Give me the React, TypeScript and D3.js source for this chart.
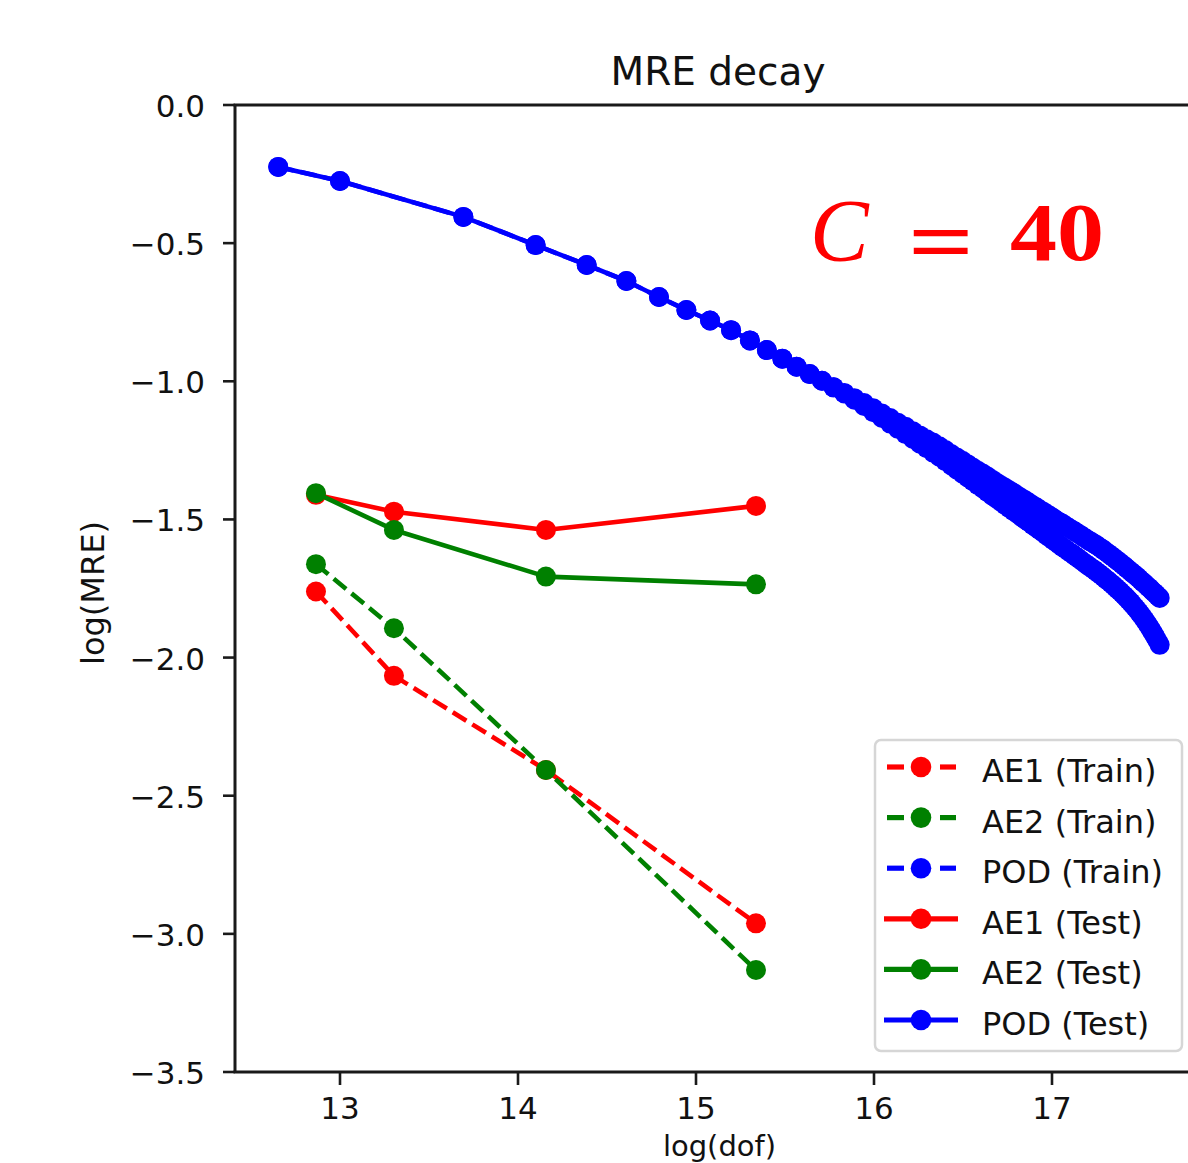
import React from "react";
import * as d3 from "d3";

// ---------- data ----------
const AE_X = [12.865, 13.303, 14.157, 15.337];
const AE1_TRAIN = [-1.761, -2.066, -2.407, -2.962];
const AE2_TRAIN = [-1.662, -1.894, -2.407, -3.131];
const AE1_TEST = [-1.411, -1.472, -1.538, -1.451];
const AE2_TEST = [-1.405, -1.538, -1.707, -1.735];

const POD_X = [
  12.653, 13.0, 13.693, 14.099, 14.386, 14.609, 14.792, 14.946, 15.079, 15.197, 15.303,
  15.398, 15.485, 15.565, 15.639, 15.708, 15.773, 15.833, 15.89, 15.944, 15.996,
  16.045, 16.091, 16.135, 16.178, 16.219, 16.258, 16.296, 16.332, 16.367, 16.401,
  16.434, 16.466, 16.497, 16.526, 16.555, 16.584, 16.611, 16.638, 16.664, 16.689,
  16.714, 16.738, 16.761, 16.784, 16.807, 16.829, 16.85, 16.871, 16.892, 16.912,
  16.932, 16.951, 16.97, 16.989, 17.007, 17.025, 17.043, 17.06, 17.078, 17.094,
  17.111, 17.127, 17.143, 17.159, 17.174, 17.19, 17.205, 17.22, 17.234, 17.248,
  17.263, 17.277, 17.29, 17.304, 17.317, 17.331, 17.344, 17.357, 17.369, 17.382,
  17.394, 17.407, 17.419, 17.431, 17.443, 17.454, 17.466, 17.477, 17.489, 17.5,
  17.511, 17.522, 17.533, 17.543, 17.554, 17.564, 17.575, 17.585, 17.595, 17.605,
];
const POD_TRAIN = [
  -0.224, -0.275, -0.405, -0.507, -0.579, -0.637, -0.695, -0.742, -0.78, -0.815, -0.852,
  -0.887, -0.918, -0.947, -0.974, -0.998, -1.022, -1.044, -1.067, -1.089, -1.112,
  -1.133, -1.153, -1.172, -1.191, -1.209, -1.226, -1.242, -1.258, -1.273, -1.289,
  -1.305, -1.32, -1.334, -1.348, -1.362, -1.376, -1.388, -1.401, -1.414, -1.425,
  -1.437, -1.448, -1.459, -1.47, -1.48, -1.491, -1.501, -1.51, -1.521, -1.53,
  -1.539, -1.548, -1.558, -1.566, -1.575, -1.583, -1.592, -1.6, -1.608, -1.616,
  -1.623, -1.631, -1.638, -1.646, -1.653, -1.661, -1.668, -1.675, -1.681, -1.688,
  -1.695, -1.702, -1.709, -1.717, -1.723, -1.731, -1.738, -1.746, -1.753, -1.76,
  -1.768, -1.776, -1.784, -1.792, -1.8, -1.809, -1.818, -1.826, -1.836, -1.845,
  -1.855, -1.865, -1.875, -1.885, -1.896, -1.907, -1.919, -1.93, -1.942, -1.954,
];
const POD_TEST = [
  -0.224, -0.275, -0.405, -0.507, -0.579, -0.637, -0.695, -0.742, -0.78, -0.815, -0.852,
  -0.887, -0.918, -0.947, -0.974, -0.998, -1.022, -1.042, -1.061, -1.079, -1.098,
  -1.117, -1.133, -1.15, -1.165, -1.181, -1.196, -1.21, -1.222, -1.235, -1.249,
  -1.263, -1.276, -1.288, -1.3, -1.312, -1.324, -1.334, -1.345, -1.356, -1.367,
  -1.377, -1.386, -1.395, -1.404, -1.414, -1.423, -1.431, -1.44, -1.449, -1.456,
  -1.465, -1.472, -1.48, -1.488, -1.495, -1.503, -1.51, -1.516, -1.524, -1.53,
  -1.537, -1.543, -1.55, -1.556, -1.563, -1.569, -1.576, -1.581, -1.587, -1.592,
  -1.599, -1.605, -1.611, -1.618, -1.624, -1.631, -1.637, -1.644, -1.65, -1.656,
  -1.663, -1.669, -1.676, -1.682, -1.689, -1.695, -1.701, -1.707, -1.714, -1.721,
  -1.727, -1.733, -1.74, -1.746, -1.752, -1.759, -1.765, -1.771, -1.778, -1.784,
];

const X_TICKS = [13, 14, 15, 16, 17];
const Y_TICKS = [0, -0.5, -1.0, -1.5, -2.0, -2.5, -3.0, -3.5];

const LEGEND_LABELS = ["AE1 (Train)", "AE2 (Train)", "POD (Train)", "AE1 (Test)", "AE2 (Test)", "POD (Test)"];

type Series = { label: string; xs: number[]; ys: number[]; color: string; dashed: boolean };

const SERIES: Series[] = [
  { label: LEGEND_LABELS[0], xs: AE_X, ys: AE1_TRAIN, color: "#ff0000", dashed: true },
  { label: LEGEND_LABELS[1], xs: AE_X, ys: AE2_TRAIN, color: "#008000", dashed: true },
  { label: LEGEND_LABELS[2], xs: POD_X, ys: POD_TRAIN, color: "#0000ff", dashed: true },
  { label: LEGEND_LABELS[3], xs: AE_X, ys: AE1_TEST, color: "#ff0000", dashed: false },
  { label: LEGEND_LABELS[4], xs: AE_X, ys: AE2_TEST, color: "#008000", dashed: false },
  { label: LEGEND_LABELS[5], xs: POD_X, ys: POD_TEST, color: "#0000ff", dashed: false },
];

// ---------- layout ----------
const W = 1188;
const H = 1163;
const L = 235;
const R = 1204;
const T = 105;
const B = 1072;
const FONT = "'DejaVu Sans', sans-serif";
const LW = 4.6;
const MR = 10;
const DASH = "16 7";

export default function App() {
  const x = d3.scaleLinear().domain([13 - (340 - L) / 178, 13 + (R - 340) / 178]).range([L, R]);
  const y = d3.scaleLinear().domain([-3.5, 0]).range([B, T]);
  const fmt = d3.format(".1f");

  const line = (xs: number[], ys: number[]) =>
    d3.line<number>().x((_, i) => x(xs[i])).y((d) => y(d))(ys) || "";

  const legX = 875;
  const legY = 740;
  const rowY = (i: number) => 767 + i * 50.6;
  const serif = "'Liberation Serif', 'DejaVu Serif', serif";

  return (
    <div style={{ position: "absolute", left: 0, top: 0, width: W, height: H, overflow: "hidden", background: "#fff" }}>
      <svg width={W} height={H} style={{ display: "block" }} fontFamily={FONT}>
        <rect x={0} y={0} width={W} height={H} fill="#fff" />

        {/* series */}
        {SERIES.map((s, si) => (
          <g key={si}>
            <path
              d={line(s.xs, s.ys)}
              fill="none"
              stroke={s.color}
              strokeWidth={LW}
              strokeDasharray={s.dashed ? DASH : undefined}
              strokeLinejoin="round"
            />
            {s.ys.map((v, i) => (
              <circle key={i} cx={x(s.xs[i])} cy={y(v)} r={MR} fill={s.color} />
            ))}
          </g>
        ))}

        {/* spines */}
        <g stroke="#1a1a1a" strokeWidth={3} fill="none">
          <line x1={L} y1={T} x2={L} y2={B} />
          <line x1={L - 1.5} y1={T} x2={R} y2={T} />
          <line x1={L - 1.5} y1={B} x2={R} y2={B} />
          <line x1={R} y1={T} x2={R} y2={B} />
        </g>

        {/* y ticks */}
        {Y_TICKS.map((t) => (
          <g key={t}>
            <line x1={L - 12} x2={L} y1={y(t)} y2={y(t)} stroke="#1a1a1a" strokeWidth={2.6} />
            <text x={205} y={y(t) + 12} textAnchor="end" fontSize={31} fill="#111">
              {fmt(t)}
            </text>
          </g>
        ))}

        {/* x ticks */}
        {X_TICKS.map((t) => (
          <g key={t}>
            <line x1={x(t)} x2={x(t)} y1={B} y2={B + 13} stroke="#1a1a1a" strokeWidth={2.6} />
            <text x={x(t)} y={1119} textAnchor="middle" fontSize={31} fill="#111">
              {String(t)}
            </text>
          </g>
        ))}

        {/* axis labels & title */}
        <text x={(L + R) / 2} y={1156} textAnchor="middle" fontSize={29} fill="#111">
          log(dof)
        </text>
        <text transform={`translate(104, 593) rotate(-90)`} textAnchor="middle" fontSize={32} fill="#111">
          log(MRE)
        </text>
        <text x={718} y={85} textAnchor="middle" fontSize={39} fill="#111">
          MRE decay
        </text>

        {/* C = 40 annotation */}
        <g fill="#ff0000">
          <text x={810} y={260} fontFamily={serif} fontStyle="italic" fontSize={88}>
            C
          </text>
          <text x={908} y={272} fontFamily={serif} fontWeight="bold" fontSize={88} textLength={66} lengthAdjust="spacingAndGlyphs">
            =
          </text>
          <text x={1010} y={260} fontFamily={serif} fontWeight="bold" fontSize={82} textLength={94} lengthAdjust="spacingAndGlyphs">
            40
          </text>
        </g>

        {/* legend */}
        <rect x={legX} y={legY} width={307} height={311} rx={6} fill="#fff" stroke="#d6d6d6" strokeWidth={2.5} />
        {SERIES.map((s, i) => (
          <g key={i}>
            {s.dashed ? (
              <>
                <line x1={887} x2={904} y1={rowY(i)} y2={rowY(i)} stroke={s.color} strokeWidth={LW + 0.6} />
                <line x1={940} x2={956} y1={rowY(i)} y2={rowY(i)} stroke={s.color} strokeWidth={LW + 0.6} />
              </>
            ) : (
              <line x1={884} x2={958} y1={rowY(i)} y2={rowY(i)} stroke={s.color} strokeWidth={LW + 0.6} />
            )}
            <circle cx={921} cy={rowY(i)} r={MR + 0.3} fill={s.color} />
            <text x={982} y={rowY(i) + 15} fontSize={32} fill="#111">
              {s.label}
            </text>
          </g>
        ))}
      </svg>
    </div>
  );
}
